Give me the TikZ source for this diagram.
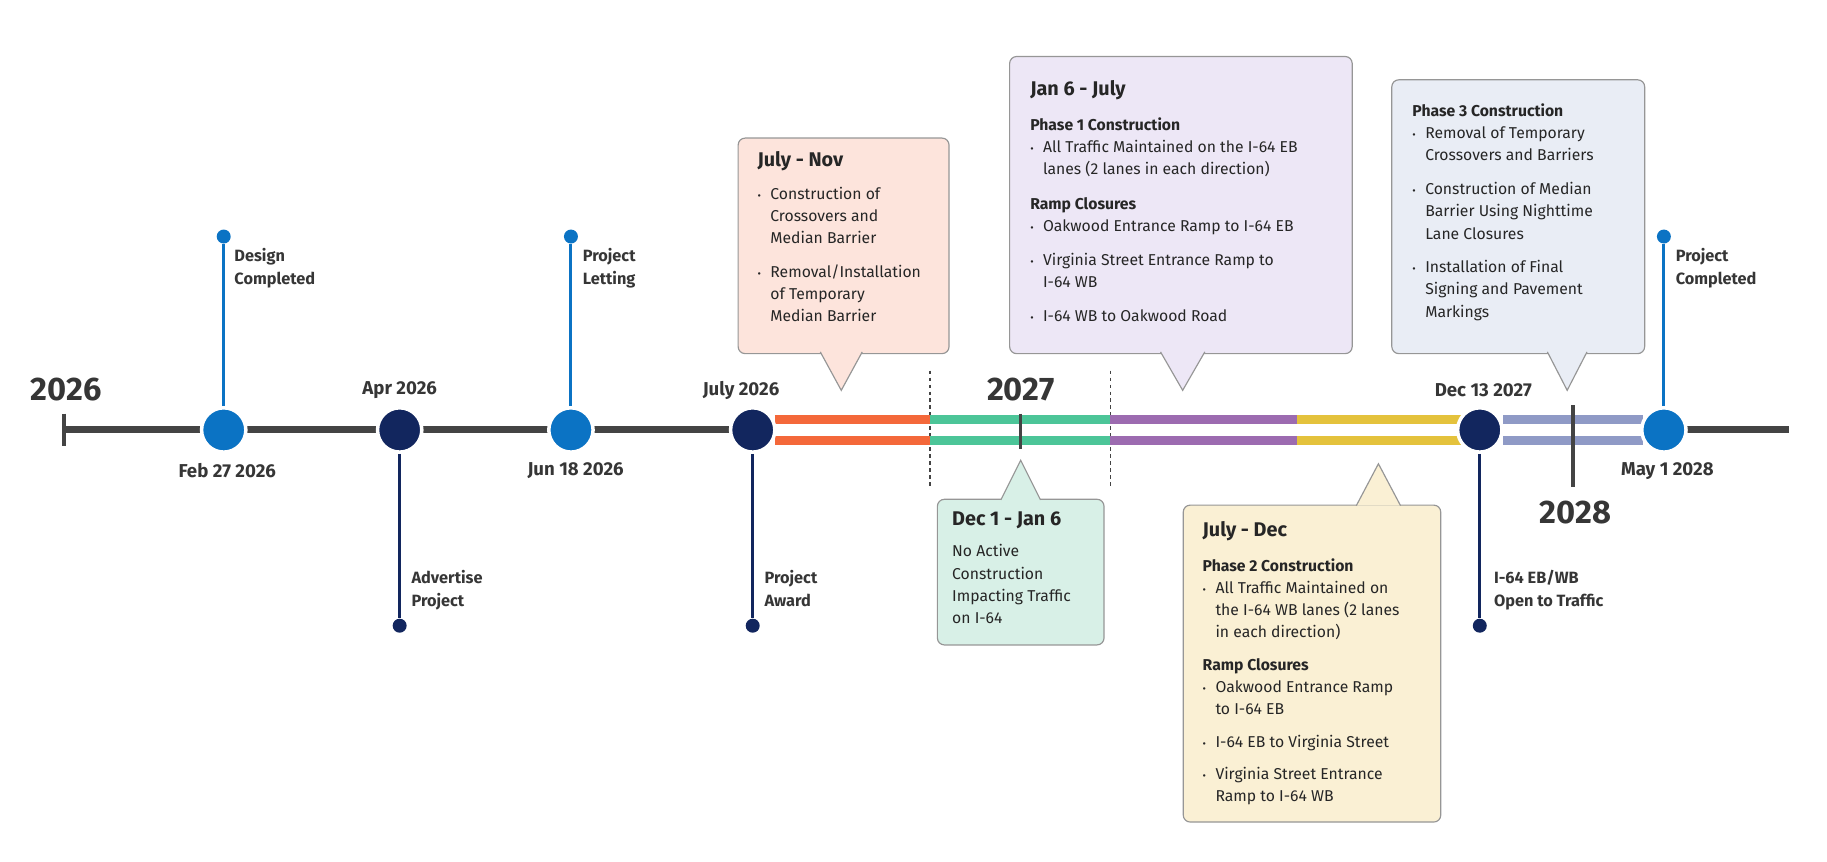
\documentclass[tikz,border=0pt]{standalone}
\usepackage{fontspec}
\setmainfont{Fira Sans}
\usetikzlibrary{positioning}
\definecolor{tlblue}{RGB}{11,115,196}
\definecolor{tlnavy}{RGB}{18,38,94}
\definecolor{tlgray}{RGB}{68,68,68}
\definecolor{tlorange}{RGB}{244,104,58}
\definecolor{tlgreen}{RGB}{76,197,152}
\definecolor{tlpurple}{RGB}{156,107,176}
\definecolor{tlyellow}{RGB}{228,194,60}
\definecolor{tllav}{RGB}{143,154,198}
\definecolor{boxline}{RGB}{150,150,150}
\definecolor{fpink}{RGB}{253,228,220}
\definecolor{flav}{RGB}{237,231,246}
\definecolor{fblue}{RGB}{233,237,245}
\definecolor{fmint}{RGB}{216,240,231}
\definecolor{fcream}{RGB}{250,240,212}
\newcommand{\bl}[1]{\makebox[11pt][l]{\fontsize{9}{9}\selectfont\textbullet}#1}
\newcommand{\ct}{\hspace*{11pt}}
\newcommand{\ttl}[1]{{\fontsize{17}{19}\selectfont\bfseries #1}}
\newcommand{\sub}[1]{{\bfseries #1}}
\begin{document}
\begin{tikzpicture}[x=1pt, y=-1pt,
  bigdot/.style={circle, draw=white, line width=3pt, minimum size=38pt, inner sep=0},
  tipdot/.style={circle, minimum size=12pt, inner sep=0},
  stem/.style={line width=2.5pt},
  band/.style={line width=7pt},
  yr/.style={font=\fontsize{28}{30}\selectfont\bfseries, text=tlgray!80!black},
  datelbl/.style={font=\fontsize{16}{18}\selectfont\bfseries, text=tlgray!80!black},
  mslbl/.style={font=\fontsize{14}{20}\selectfont\bfseries, align=left, anchor=north west, inner sep=0, text=tlgray!80!black},
  callbox/.style={draw=boxline, line width=1pt, rounded corners=6pt, anchor=north west, inner sep=0},
  calltext/.style={anchor=north west, align=left, inner sep=0, font=\fontsize{13.5}{19}\selectfont, text=black!85}]
  \useasboundingbox (0,0) rectangle (1568,739);

  % axis
  \node[inner sep=0] (axL) at (55,369) {};
  \draw[line width=6pt, tlgray] (55,369) -- (640,369);
  \draw[line width=6pt, tlgray] (1440,369) -- (1535,369);
  \draw[line width=3pt, tlgray] (55,355) -- (55,383);

  % dashed guides
  \draw[dashed, line width=1.2pt, tlgray] (798,318) -- (798,418);
  \draw[dashed, line width=1.2pt, tlgray] (953,318) -- (953,418);

  % colored double band
  \foreach \a/\b/\c in {665/798/tlorange, 798/953/tlgreen, 953/1113/tlpurple, 1113/1255/tlyellow, 1290/1410/tllav}{
    \draw[band, \c] (\a,360) -- (\b,360);
    \draw[band, \c] (\a,378) -- (\b,378);
  }

  % year ticks
  \draw[line width=3pt, tlgray] (876,355) -- (876,385);
  \draw[line width=3pt, tlgray] (1350,348) -- (1350,418);
  \node[yr] (y26) at (57,334) {2026};
  \node[yr] (y27) at (876,334) {2027};
  \node[yr] (y28) at (1352,440) {2028};

  % milestones
  \node[tipdot, fill=tlblue] (febT) at (192,203) {};
  \node[tipdot, fill=tlnavy] (aprB) at (343,537) {};
  \node[tipdot, fill=tlblue] (junT) at (490,203) {};
  \node[tipdot, fill=tlnavy] (julB) at (646,537) {};
  \node[tipdot, fill=tlnavy] (decB) at (1270,537) {};
  \node[tipdot, fill=tlblue] (mayT) at (1428,203) {};
  \node[bigdot, fill=tlblue] (feb) at (192,369) {};
  \node[bigdot, fill=tlnavy] (apr) at (343,369) {};
  \node[bigdot, fill=tlblue] (jun) at (490,369) {};
  \node[bigdot, fill=tlnavy] (jul) at (646,369) {};
  \node[bigdot, fill=tlnavy] (dec) at (1270,369) {};
  \node[bigdot, fill=tlblue] (may) at (1428,369) {};
  \draw[stem, tlblue] (feb) -- (febT);
  \draw[stem, tlnavy] (apr) -- (aprB);
  \draw[stem, tlblue] (jun) -- (junT);
  \draw[stem, tlnavy] (jul) -- (julB);
  \draw[stem, tlnavy] (dec) -- (decB);
  \draw[stem, tlblue] (may) -- (mayT);

  \node[datelbl] (febD) at (195,404) {Feb 27 2026};
  \node[datelbl] (aprD) at (343,335) {Apr 2026};
  \node[datelbl] (junD) at (494,404) {Jun 18 2026};
  \node[datelbl] (julD) at (636,335) {July 2026};
  \node[datelbl] (decD) at (1273,335) {Dec 13 2027};
  \node[datelbl] (mayD) at (1431,404) {May 1 2028};

  \node[mslbl] (febL) at (201,213) {Design\\Completed};
  \node[mslbl] (aprL) at (353,489) {Advertise\\Project};
  \node[mslbl] (junL) at (500,213) {Project\\Letting};
  \node[mslbl] (julL) at (656,489) {Project\\Award};
  \node[mslbl] (decL) at (1282,489) {I-64 EB/WB\\Open to Traffic};
  \node[mslbl] (mayL) at (1438,213) {Project\\Completed};

  % callout: July - Nov
  \node[callbox, fill=fpink, minimum width=181pt, minimum height=185pt] (cNov) at (633,118) {};
  \filldraw[fill=fpink, draw=boxline, line width=1pt] (704,302) -- (722,335) -- (740,302);
  \node[calltext] (tNov) at (650,130) {\ttl{July - Nov}\\[9pt]
    \bl{Construction of}\\ \ct Crossovers and\\ \ct Median Barrier\\[10pt]
    \bl{Removal/Installation}\\ \ct of Temporary\\ \ct Median Barrier};

  % callout: Jan 6 - July
  \node[callbox, fill=flav, minimum width=294pt, minimum height=255pt] (cJul) at (866,48) {};
  \filldraw[fill=flav, draw=boxline, line width=1pt] (996,302) -- (1015,335) -- (1034,302);
  \node[calltext] (tJul) at (884,69) {\ttl{Jan 6 - July}\\[11pt]
    \sub{Phase 1 Construction}\\
    \bl{All Traffic Maintained on the I-64 EB}\\ \ct lanes (2 lanes in each direction)\\[11pt]
    \sub{Ramp Closures}\\
    \bl{Oakwood Entrance Ramp to I-64 EB}\\[10pt]
    \bl{Virginia Street Entrance Ramp to}\\ \ct I-64 WB\\[10pt]
    \bl{I-64 WB to Oakwood Road}};

  % callout: Phase 3
  \node[callbox, fill=fblue, minimum width=217pt, minimum height=235pt] (cPh3) at (1194,68) {};
  \filldraw[fill=fblue, draw=boxline, line width=1pt] (1328,302) -- (1345,335) -- (1362,302);
  \node[calltext] (tPh3) at (1212,89) {\sub{Phase 3 Construction}\\
    \bl{Removal of Temporary}\\ \ct Crossovers and Barriers\\[10pt]
    \bl{Construction of Median}\\ \ct Barrier Using Nighttime\\ \ct Lane Closures\\[10pt]
    \bl{Installation of Final}\\ \ct Signing and Pavement\\ \ct Markings};

  % callout: Dec 1 - Jan 6
  \node[callbox, fill=fmint, minimum width=143pt, minimum height=125pt] (cDec) at (804,428) {};
  \filldraw[fill=fmint, draw=boxline, line width=1pt] (859,429) -- (876,395) -- (893,429);
  \node[calltext] (tDec) at (817,439) {\ttl{Dec 1 - Jan 6}\\[8pt]
    No Active\\ Construction\\ Impacting Traffic\\ on I-64};

  % callout: July - Dec
  \node[callbox, fill=fcream, minimum width=221pt, minimum height=272pt] (cJd) at (1015,433) {};
  \filldraw[fill=fcream, draw=boxline, line width=1pt] (1164,434) -- (1183,398) -- (1202,434);
  \node[calltext] (tJd) at (1032,447) {\ttl{July - Dec}\\[11pt]
    \sub{Phase 2 Construction}\\
    \bl{All Traffic Maintained on}\\ \ct the I-64 WB lanes (2 lanes\\ \ct in each direction)\\[9pt]
    \sub{Ramp Closures}\\
    \bl{Oakwood Entrance Ramp}\\ \ct to I-64 EB\\[9pt]
    \bl{I-64 EB to Virginia Street}\\[9pt]
    \bl{Virginia Street Entrance}\\ \ct Ramp to I-64 WB};
\end{tikzpicture}
\end{document}
